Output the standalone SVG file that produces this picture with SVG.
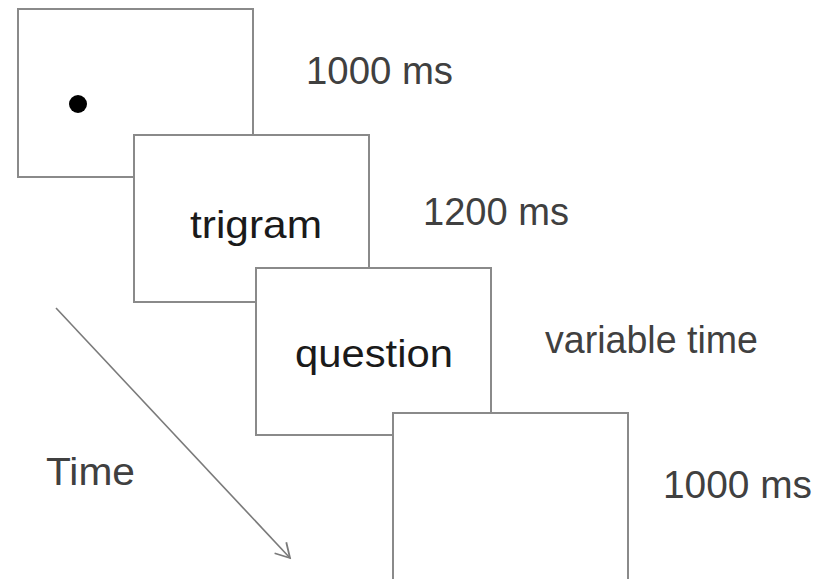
<svg xmlns="http://www.w3.org/2000/svg" width="826" height="579" viewBox="0 0 826 579">
  <defs>
    <style>
      .frame { fill: #ffffff; stroke: #8a8a8a; stroke-width: 2; }
      .inner { font-family: "Liberation Sans", Arial, sans-serif; font-size: 39px; fill: #1a1a1a; }
      .dur { font-family: "Liberation Sans", Arial, sans-serif; font-size: 38px; fill: #404040; }
      .axis { stroke: #7a7a7a; stroke-width: 1.6; fill: none; }
    </style>
    <marker id="chevron" viewBox="0 0 20 20" refX="18" refY="10" markerWidth="20" markerHeight="20" markerUnits="userSpaceOnUse" orient="auto">
      <path d="M4,2 L18,10 L4,18" fill="none" stroke="#7a7a7a" stroke-width="1.8"/>
    </marker>
  </defs>
  <rect width="826" height="579" fill="#ffffff"/>

  <!-- time axis -->
  <g id="connectors">
    <line class="axis" x1="56" y1="308" x2="290" y2="558" marker-end="url(#chevron)"/>
  </g>
  <text class="dur" x="46" y="485" textLength="89" lengthAdjust="spacingAndGlyphs">Time</text>

  <!-- fixation screen -->
  <g id="fixation">
    <rect class="frame" x="18" y="9" width="235" height="168"/>
    <circle cx="78" cy="104" r="9" fill="#000000"/>
  </g>
  <text class="dur" x="306" y="84" textLength="147" lengthAdjust="spacingAndGlyphs">1000 ms</text>

  <!-- trigram screen -->
  <g id="trigram">
    <rect class="frame" x="134" y="135" width="235" height="167"/>
    <text class="inner" x="190" y="238" textLength="132" lengthAdjust="spacingAndGlyphs">trigram</text>
  </g>
  <text class="dur" x="423" y="225" textLength="146" lengthAdjust="spacingAndGlyphs">1200 ms</text>

  <!-- question screen -->
  <g id="question">
    <rect class="frame" x="256" y="268" width="235" height="167"/>
    <text class="inner" x="295" y="367" textLength="158" lengthAdjust="spacingAndGlyphs">question</text>
  </g>
  <text class="dur" x="545" y="353" font-size="32" textLength="213" lengthAdjust="spacingAndGlyphs">variable time</text>

  <!-- blank screen -->
  <g id="blank">
    <rect class="frame" x="393" y="413" width="235" height="175"/>
  </g>
  <text class="dur" x="663" y="498" textLength="149" lengthAdjust="spacingAndGlyphs">1000 ms</text>
</svg>
